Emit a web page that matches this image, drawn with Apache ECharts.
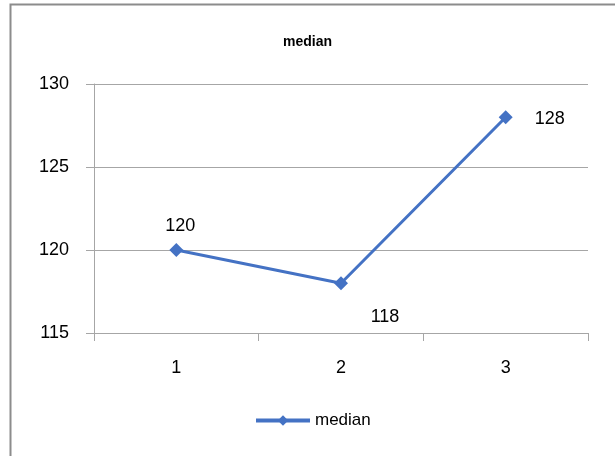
<!DOCTYPE html>
<html>
<head>
<meta charset="utf-8">
<script src="https://cdn.jsdelivr.net/npm/echarts@6/dist/echarts.min.js"></script>
<style>
  html, body { margin: 0; padding: 0; background: #fff; }
  #chart { width: 615px; height: 456px; }
</style>
</head>
<body>
<div id="chart"></div>
<script>
// Categories and median values per group
const categories = ['1', '2', '3'];
const medianValues = [120, 118, 128];
const yTicks = { min: 115, max: 130, interval: 5 };

// Per-point label placement (offsets relative to the marker)
const labelOffsets = [[4, 2], [44, 34], [44, 2]];
const labelPositions = ['top', 'inside', 'inside'];

const FONT = '"Liberation Sans", "Open Sans", sans-serif';
const AXIS_GREY = '#a6a6a6';
const BLUE = '#4472c4';

const chart = echarts.init(document.getElementById('chart'), null, { renderer: 'canvas' });

const seriesData = medianValues.map((v, i) => ({
  value: v,
  label: {
    position: labelPositions[i],
    offset: labelOffsets[i]
  }
}));

chart.setOption({
  animation: false,
  backgroundColor: '#fff',
  graphic: [{
    type: 'rect',
    shape: { x: 10.5, y: 4.5, width: 1000, height: 1000 },
    style: { fill: 'none', stroke: '#8c8c8c', lineWidth: 2 },
    silent: true
  }],
  title: {
    text: 'median',
    left: 'center',
    top: 30,
    textStyle: { fontFamily: FONT, fontWeight: 'bold', fontSize: 14, color: '#000' }
  },
  legend: {
    bottom: 22,
    left: 249,
    itemWidth: 54,
    itemHeight: 13,
    itemGap: 4,
    lineStyle: { width: 4 },
    textStyle: { fontFamily: FONT, fontSize: 17, color: '#000' },
    data: ['median']
  },
  grid: { left: 94, right: 27, top: 84, bottom: 123, containLabel: false },
  xAxis: {
    type: 'category',
    data: categories,
    boundaryGap: true,
    axisLine: { show: true, lineStyle: { color: AXIS_GREY, width: 1 } },
    axisTick: { show: true, length: 8, lineStyle: { color: AXIS_GREY } },
    axisLabel: { margin: 26, fontFamily: FONT, fontSize: 18, color: '#000' },
    splitLine: { show: false }
  },
  yAxis: {
    type: 'value',
    min: yTicks.min,
    max: yTicks.max,
    interval: yTicks.interval,
    axisLine: { show: true, lineStyle: { color: AXIS_GREY, width: 1 } },
    axisTick: { show: true, length: 8, lineStyle: { color: AXIS_GREY } },
    axisLabel: { margin: 25, fontFamily: FONT, fontSize: 18, color: '#000' },
    splitLine: { show: true, lineStyle: { color: AXIS_GREY, width: 1 } }
  },
  series: [{
    name: 'median',
    type: 'line',
    data: seriesData,
    symbol: 'diamond',
    symbolSize: 14,
    itemStyle: { color: BLUE },
    lineStyle: { color: BLUE, width: 3 },
    label: {
      show: true,
      fontFamily: FONT,
      fontSize: 18,
      color: '#000',
      distance: 10
    }
  }]
});
</script>
</body>
</html>
